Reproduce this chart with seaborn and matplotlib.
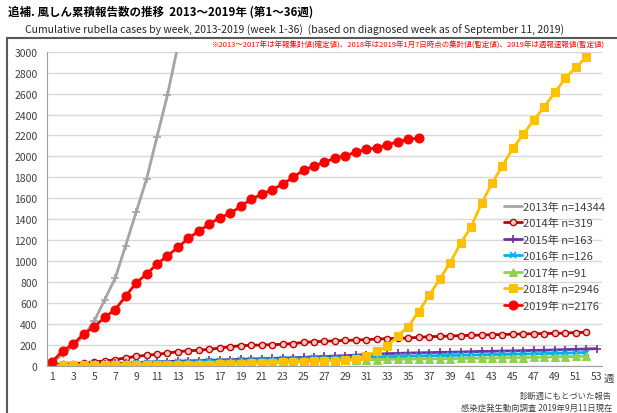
import numpy as np
import pandas as pd
import matplotlib
matplotlib.use("Agg")
import matplotlib.pyplot as plt
import seaborn as sns
from matplotlib.patches import Rectangle

sns.set_theme(style="white")
plt.rcParams['font.family'] = ['Noto Sans CJK JP', 'DejaVu Sans']

# cumulative reported cases by diagnosed week
y2013 = [30, 110, 190, 285, 424, 630, 835, 1146, 1465, 1783, 2187, 2588, 3060]
y2014 = [10, 15, 20, 26, 38, 45, 57, 75, 88, 100,
         108, 121, 134, 143, 147, 157, 169, 181, 191, 195,
         198, 201, 204, 212, 222, 229, 233, 238, 241, 245,
         249, 255, 258, 262, 265, 271, 277, 280, 284, 287,
         290, 293, 296, 298, 301, 303, 305, 307, 309, 312,
         316, 319]
y2015 = [3, 6, 9, 12, 15, 19, 22, 26, 30, 34,
         37, 40, 43, 46, 49, 52, 55, 58, 61, 64,
         67, 70, 73, 76, 80, 84, 88, 92, 96, 101,
         106, 112, 115, 118, 121, 123, 125, 127, 129, 131,
         134, 136, 138, 140, 142, 144, 146, 148, 151, 154,
         157, 160, 163]
y2016 = [2, 4, 6, 9, 12, 14, 16, 19, 22, 25,
         28, 30, 33, 36, 38, 41, 44, 47, 50, 52,
         55, 58, 61, 63, 66, 69, 72, 75, 78, 80,
         82, 84, 86, 88, 90, 92, 94, 96, 98, 100,
         102, 104, 106, 108, 110, 112, 114, 116, 118, 120,
         123, 126]
y2017 = [1, 3, 4, 6, 8, 9, 11, 13, 15, 17,
         19, 21, 23, 25, 27, 29, 31, 33, 35, 37,
         39, 41, 43, 45, 47, 49, 51, 53, 54, 56,
         57, 58, 60, 61, 62, 64, 65, 66, 68, 69,
         71, 72, 74, 75, 77, 78, 80, 82, 84, 86,
         88, 91]
y2018 = [1, 2, 3, 3, 4, 5, 5, 6, 6, 7,
         7, 8, 8, 9, 9, 10, 12, 14, 17, 22,
         25, 28, 32, 35, 38, 41, 45, 48, 52, 64,
         96, 137, 185, 285, 372, 517, 672, 827, 984, 1169,
         1327, 1551, 1742, 1910, 2076, 2213, 2349, 2473, 2611, 2745,
         2850, 2946]
y2019 = [40, 143, 207, 303, 372, 462, 535, 663, 790, 876,
         971, 1050, 1131, 1217, 1287, 1353, 1415, 1456, 1522, 1592,
         1637, 1681, 1735, 1799, 1869, 1907, 1945, 1984, 2006, 2041,
         2067, 2082, 2111, 2139, 2162, 2176]

labels = ['2013年 n=14344', '2014年 n=319', '2015年 n=163', '2016年 n=126',
          '2017年 n=91', '2018年 n=2946', '2019年 n=2176']
series = [y2013, y2014, y2015, y2016, y2017, y2018, y2019]

styles = [
    dict(color='#A5A5A5', marker='+', markersize=6, mec='#A5A5A5', mew=1.2),
    dict(color='#C00000', marker='o', markersize=4.5, mfc='#F4C7C7', mec='#C00000', mew=1),
    dict(color='#7030A0', marker='+', markersize=6, mec='#7030A0', mew=1.2),
    dict(color='#00B0F0', marker='x', markersize=4.5, mec='#00B0F0', mew=1.2),
    dict(color='#92D050', marker='^', markersize=5.5, mec='#92D050'),
    dict(color='#FFC000', marker='s', markersize=6, mec='#FFC000'),
    dict(color='#FF0000', marker='o', markersize=6.5, mec='#FF0000'),
]

fig = plt.figure(figsize=(6.17, 4.14), dpi=100)
ax = fig.add_axes([47.1 / 617, 1 - 366.7 / 414, (601.9 - 47.1) / 617, (366.7 - 52.7) / 414])

for vals, lab, st in zip(series, labels, styles):
    weeks = np.arange(1, len(vals) + 1)
    sns.lineplot(x=weeks, y=vals, ax=ax, label=lab, linewidth=2, linestyle='-', **st)

ax.set_xlim(0.5, 53.5)
ax.set_ylim(0, 3000)
ax.set_yticks(np.arange(0, 3001, 200))
ax.set_xticks(np.arange(1, 54, 2))
ax.set_xticks(np.arange(0.5, 54, 1), minor=True)
ax.tick_params(axis='both', labelsize=7.5, colors='#404040', length=0, pad=4)
ax.tick_params(axis='x', which='minor', length=3, color='#A0A0A0', width=0.8)
ax.tick_params(axis='y', length=3, color='#A0A0A0', width=0.8)
ax.grid(axis='y', color='#D9D9D9', linewidth=1)
ax.set_axisbelow(True)
for s in ['top', 'right']:
    ax.spines[s].set_visible(False)
for s in ['left', 'bottom']:
    ax.spines[s].set_color('#A0A0A0')
    ax.spines[s].set_linewidth(0.8)
ax.set_xlabel('')
ax.set_ylabel('')

leg = ax.legend(loc='upper left', bbox_to_anchor=(500 / 617, 1 - 198 / 414),
                bbox_transform=fig.transFigure, frameon=False, fontsize=8,
                handlelength=1.6, handletextpad=0.1, labelspacing=0.55, borderaxespad=0)
for t in leg.get_texts():
    t.set_color('#404040')
# 2013 legend entry is drawn as a plain line
leg.get_lines()[0].set_marker('')

# chart frame
fig.patches.append(Rectangle((7 / 617, -0.1), 1.0, 1 - 39 / 414 + 0.1, transform=fig.transFigure,
                             fill=False, edgecolor='#595959', linewidth=1.5))

fig.text(8 / 617, 1 - 12 / 414, '追補. 風しん累積報告数の推移  2013～2019年 (第1～36週)',
         fontsize=8.3, fontweight='bold', va='center', ha='left', color='#000000')
fig.text(25 / 617, 1 - 30 / 414,
         'Cumulative rubella cases by week, 2013-2019 (week 1-36)  (based on diagnosed week as of September 11, 2019)',
         fontsize=7.5, va='center', ha='left', color='#262626')
fig.text(605 / 617, 1 - 46 / 414,
         '※2013～2017年は年報集計値(確定値)、2018年は2019年1月7日時点の集計値(暫定値)、2019年は週報速報値(暫定値)',
         fontsize=5.4, va='center', ha='right', color='#FF0000')
fig.text(604 / 617, 1 - 379 / 414, '週', fontsize=7.5, va='center', ha='left', color='#404040')
fig.text(612 / 617, 1 - 396 / 414, '診断週にもとづいた報告', fontsize=6, va='center', ha='right', color='#404040')
fig.text(612 / 617, 1 - 408 / 414, '感染症発生動向調査 2019年9月11日現在', fontsize=6, va='center', ha='right', color='#404040')

fig.savefig('out.png', dpi=100)
